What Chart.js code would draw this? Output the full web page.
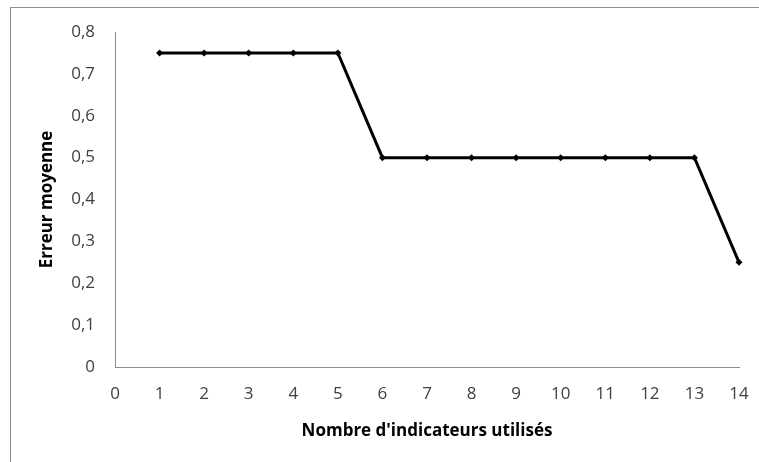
<!DOCTYPE html>
<html>
<head>
<meta charset="utf-8">
<script src="https://cdn.jsdelivr.net/npm/chart.js@4/dist/chart.umd.min.js"></script>
<style>
  html, body { margin: 0; padding: 0; background: #ffffff; overflow: hidden; }
  #frame { position: absolute; left: 10px; top: 7px; width: 800px; height: 500px;
           border-left: 1px solid #8c8c8c; border-top: 1px solid #8c8c8c; }
  #wrap { position: absolute; left: 0; top: 0; width: 759px; height: 462px; }
</style>
</head>
<body>
<div id="frame"></div>
<div id="wrap"><canvas id="chart" width="759" height="462"></canvas></div>
<script>
// Mean error as a function of the number of indicators used
const indicatorCounts = [1, 2, 3, 4, 5, 6, 7, 8, 9, 10, 11, 12, 13, 14];
const meanError = [0.75, 0.75, 0.75, 0.75, 0.75, 0.5, 0.5, 0.5, 0.5, 0.5, 0.5, 0.5, 0.5, 0.25];
const xTickValues = [0, 1, 2, 3, 4, 5, 6, 7, 8, 9, 10, 11, 12, 13, 14];
const yTickValues = [0, 0.1, 0.2, 0.3, 0.4, 0.5, 0.6, 0.7, 0.8];
const xTitle = "Nombre d'indicateurs utilisés";
const yTitle = "Erreur moyenne";

const points = indicatorCounts.map((x, i) => ({ x: x, y: meanError[i] }));

const tickFont = { family: "'Open Sans', sans-serif", size: 17 };
const titleFont = { family: "'Open Sans', sans-serif", size: 17, weight: 'bold' };
const axisGray = '#8c8c8c';

new Chart(document.getElementById('chart'), {
  type: 'line',
  data: {
    datasets: [{
      data: points,
      borderColor: '#000000',
      backgroundColor: '#000000',
      borderWidth: 3,
      pointStyle: 'rectRot',
      pointRadius: 3.5,
      pointBorderWidth: 0,
      fill: false,
      tension: 0,
      clip: false
    }]
  },
  options: {
    responsive: false,
    animation: false,
    events: [],
    layout: { padding: { left: 0, right: 20, top: 32, bottom: 0 } },
    plugins: { legend: { display: false }, tooltip: { enabled: false } },
    scales: {
      x: {
        type: 'linear',
        min: 0,
        max: 14,
        afterBuildTicks: (scale) => { scale.ticks = xTickValues.map(v => ({ value: v })); },
        afterFit: (scale) => { scale.height = 95; scale.paddingLeft = 0; scale.paddingRight = 0; },
        grid: { display: false, drawTicks: false },
        border: { display: true, color: axisGray, width: 1 },
        ticks: { font: tickFont, color: '#404040', padding: 17, maxRotation: 0, autoSkip: false },
        title: { display: true, text: xTitle, font: titleFont, color: '#000000', padding: { top: 0, bottom: 21 } }
      },
      y: {
        type: 'linear',
        min: 0,
        max: 0.8,
        afterBuildTicks: (scale) => { scale.ticks = yTickValues.map(v => ({ value: v })); },
        afterFit: (scale) => { scale.width = 115; scale.paddingTop = 0; scale.paddingBottom = 0; },
        grid: { display: false, drawTicks: false },
        border: { display: true, color: axisGray, width: 1 },
        ticks: {
          font: tickFont,
          color: '#404040',
          padding: 20,
          callback: (v) => (v === 0 ? '0' : v.toFixed(1).replace('.', ','))
        },
        title: { display: true, text: yTitle, font: titleFont, color: '#000000', padding: { top: 37, bottom: 0 } }
      }
    }
  }
});
</script>
</body>
</html>
